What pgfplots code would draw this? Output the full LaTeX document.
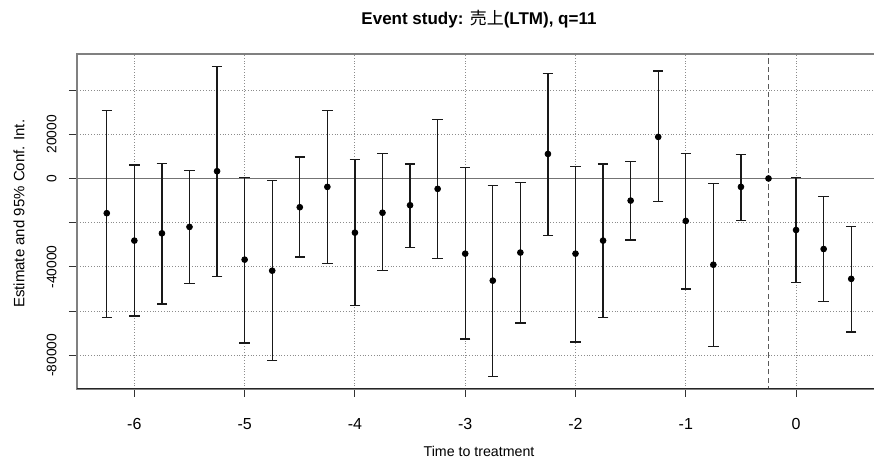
\documentclass[border=0pt]{standalone}
\usepackage{pgfplots}
\pgfplotsset{compat=1.18}
\usepackage{pgfplotstable}
\usepackage{fontspec}
\setmainfont{Liberation Sans}
\newfontfamily\cjk{Noto Sans CJK JP}

% estimate and 95% CI bounds, period relative to treatment
\pgfplotstableread{
x      y       lo      hi
-6.25  -15700  -62800  30600
-6.00  -28100  -62200   6100
-5.75  -24800  -56700   6900
-5.50  -21900  -47600   3700
-5.25    3300  -44200  50700
-5.00  -36700  -74400    500
-4.75  -41700  -82200  -1000
-4.50  -13000  -35500   9700
-4.25   -3800  -38500  30700
-4.00  -24500  -57300   8700
-3.75  -15500  -41700  11200
-3.50  -12100  -31100   6600
-3.25   -4700  -36100  26600
-3.00  -34000  -72600   4900
-2.75  -46200  -89600  -3100
-2.50  -33500  -65300  -1700
-2.25   11100  -25700  47400
-2.00  -34000  -73900   5500
-1.75  -28100  -62800   6600
-1.50  -10000  -27800   7600
-1.25   18800  -10500  48600
-1.00  -19200  -50000  11400
-0.75  -39000  -75900  -2200
-0.50   -3800  -19100  10900
 0.00  -23300  -47100    500
 0.25  -31900  -55700  -8200
 0.50  -45400  -69400 -21600
}\est

\begin{document}
\begin{tikzpicture}
\begin{axis}[
    scale only axis, width=402pt, height=167.5pt,
    xmin=-6.52, xmax=0.77, ymin=-95200, ymax=56300,
    scaled y ticks=false,
    xtick={-6,-5,-4,-3,-2,-1,0},
    xticklabels={-6,-5,-4,-3,-2,-1,0},
    ytick={-80000,-60000,-40000,-20000,0,20000,40000},
    yticklabels={-80000,,-40000,,0,20000,},
    tick pos=left, tick align=outside,
    major tick length=4pt,
    tick style={black!80, line width=0.5pt},
    axis line style={black!50, line width=0.6pt},
    grid=major,
    major grid style={densely dotted, black!45, line width=0.5pt},
    xticklabel style={font=\fontsize{8}{9.6}\selectfont, anchor=north, inner sep=0pt, yshift=-10.5pt},
    yticklabel style={font=\fontsize{6.9}{8.3}\selectfont, rotate=90, anchor=south, inner sep=0pt, yshift=6pt},
    xlabel={Time to treatment},
    ylabel={Estimate and 95\% Conf. Int.},
    xlabel style={font=\fontsize{7.1}{8.5}\selectfont,
        at={(axis description cs:0.5,0)}, anchor=center, yshift=-31pt},
    ylabel style={font=\fontsize{7.5}{9}\selectfont,
        at={(axis description cs:0,0.523)}, anchor=center, yshift=29pt},
    title={Event study: {\cjk\mdseries 売上}(LTM), q=11},
    title style={font=\fontsize{8.5}{10}\selectfont\bfseries,
        at={(axis description cs:0.5,1)}, anchor=center, yshift=11.5pt},
]
\coordinate (bl) at (rel axis cs:0,0);
\coordinate (tr) at (rel axis cs:1,1);
% reference lines
\addplot[black!55, line width=0.7pt, forget plot] coordinates {(-7,0) (1,0)};
\addplot[black!65, line width=0.7pt, dash pattern=on 2.6pt off 1.6pt, forget plot]
    coordinates {(-0.25,-100000) (-0.25,60000)};
% estimates with CI
\addplot[only marks, mark=*, mark size=1.45pt, black,
    error bars/.cd, y dir=both, y explicit,
    error bar style={black!90, line width=0.65pt},
    error mark options={black!90, line width=0.65pt, mark size=2.6pt, rotate=90}]
    table[x=x, y=y,
          y error plus expr=\thisrow{hi}-\thisrow{y},
          y error minus expr=\thisrow{y}-\thisrow{lo}] {\est};
% reference period
\addplot[only marks, mark=*, mark size=1.45pt, black] coordinates {(-0.25,0)};
\draw[black!85, line width=1.1pt] (rel axis cs:0,0) -- (rel axis cs:1,0);
\end{axis}
\pgfresetboundingbox
\path[use as bounding box] ([shift={(-38.5pt,-34.5pt)}]bl) rectangle ([shift={(-3.5pt,27pt)}]tr);
\end{tikzpicture}
\end{document}
